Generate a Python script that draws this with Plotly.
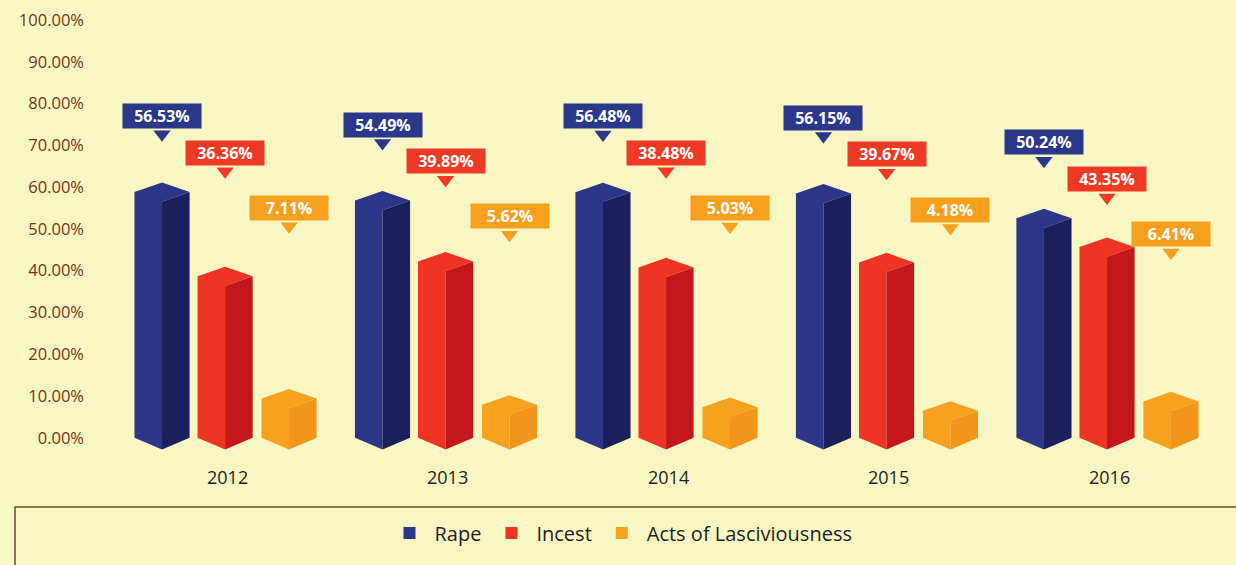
import plotly.graph_objects as go

years = ["2012", "2013", "2014", "2015", "2016"]
rape = [56.53, 54.49, 56.48, 56.15, 50.24]
incest = [36.36, 39.89, 38.48, 39.67, 43.35]
acts = [7.11, 5.62, 5.03, 4.18, 6.41]
series_names = ["Rape", "Incest", "Acts of Lasciviousness"]
tick_vals = [0, 10, 20, 30, 40, 50, 60, 70, 80, 90, 100]

BG = "#f8f6c3"
series = [
    dict(name=series_names[0], vals=rape, off=-0.286, light="#2c3689", dark="#1b1f5c", lab="#2a378a"),
    dict(name=series_names[1], vals=incest, off=0.0, light="#ee3524", dark="#c3171c", lab="#ee3a24"),
    dict(name=series_names[2], vals=acts, off=0.29, light="#f7a21e", dark="#f2951a", lab="#f6a01e"),
]
HW = 0.125       # half width of a prism in category units
TOP_C = 2.3      # side corner lift of the top face (in %)
TOP_P = 4.6      # back peak lift
BOT_F = -2.8     # front bottom point

fig = go.Figure()

for s in series:
    lx, ly, rx, ry = [], [], [], []
    for i, v in enumerate(s["vals"]):
        xc = i + s["off"]
        # left face + top face
        lx += [xc - HW, xc, xc, xc + HW, xc, xc - HW, xc - HW, None]
        ly += [0, BOT_F, v, v + TOP_C, v + TOP_P, v + TOP_C, 0, None]
        # right (shaded) face
        rx += [xc, xc + HW, xc + HW, xc, xc, None]
        ry += [BOT_F, 0, v + TOP_C, v, BOT_F, None]
    fig.add_trace(go.Scatter(x=lx, y=ly, fill="toself", fillcolor=s["light"], mode="lines",
                             line=dict(width=0, color=s["light"]), showlegend=False, hoverinfo="skip"))
    fig.add_trace(go.Scatter(x=rx, y=ry, fill="toself", fillcolor=s["dark"], mode="lines",
                             line=dict(width=0, color=s["dark"]), showlegend=False, hoverinfo="skip"))

# callout labels (staggered relative to the Rape value of each year)
LAB_OFF = [20.5, 11.7, -1.5]
tri_x, tri_y, tri_c = [], [], []
for k, s in enumerate(series):
    for i, v in enumerate(s["vals"]):
        xc = i + s["off"]
        yl = rape[i] + LAB_OFF[k]
        tri_x.append(xc)
        tri_y.append(yl - 4.4)
        tri_c.append(s["lab"])
fig.add_trace(go.Scatter(x=tri_x, y=tri_y, mode="markers", showlegend=False, hoverinfo="skip",
                         marker=dict(symbol="triangle-down", size=15, color=tri_c, line=dict(width=0))))
for k, s in enumerate(series):
    for i, v in enumerate(s["vals"]):
        xc = i + s["off"]
        yl = rape[i] + LAB_OFF[k]
        fig.add_annotation(x=xc, y=yl, xref="x", yref="y", showarrow=False,
                           text="<b>%.2f%%</b>" % v,
                           font=dict(family="Open Sans", size=16, color="white"),
                           bgcolor=s["lab"], width=72, height=18, borderpad=3)

# year labels
for i, yname in enumerate(years):
    fig.add_annotation(x=i + 0.01, y=-9.3, xref="x", yref="y", showarrow=False, text=yname,
                       font=dict(family="Open Sans", size=18, color="#1e1e1e"))

# legend entries
for s in series:
    fig.add_trace(go.Scatter(x=[None], y=[None], mode="markers", name=s["name"],
                             marker=dict(symbol="square", size=11, color=s["light"])))

# legend frame
fig.add_shape(type="rect", xref="paper", yref="paper", x0=-0.0701, x1=1.02, y0=-0.3, y1=-0.0406,
              line=dict(color="#6b4a3a", width=1.5), fillcolor="rgba(0,0,0,0)", layer="below")

fig.update_layout(
    width=1236, height=565,
    margin=dict(l=95, r=0, t=20, b=77),
    paper_bgcolor=BG, plot_bgcolor=BG,
    xaxis=dict(range=[-0.59, 4.585], showgrid=False, zeroline=False, showticklabels=False, showline=False),
    yaxis=dict(range=[-12, 100], showgrid=False, zeroline=False, showline=False,
               tickvals=tick_vals, ticktext=["%.2f%%" % t for t in tick_vals],
               tickfont=dict(family="Open Sans", size=16.5, color="#7a3318"),
               ticks="", ticklabelstandoff=10),
    legend=dict(orientation="h", x=0.461, xanchor="center", y=-0.096, yanchor="middle",
                font=dict(family="Open Sans", size=20, color="#1e1e1e"),
                bgcolor="rgba(0,0,0,0)", itemsizing="constant", itemwidth=40),
    showlegend=True,
)

fig.write_html("out.html", config={"displayModeBar": False},
               post_script="document.body.style.margin='0';document.body.style.background='%s';" % BG)
